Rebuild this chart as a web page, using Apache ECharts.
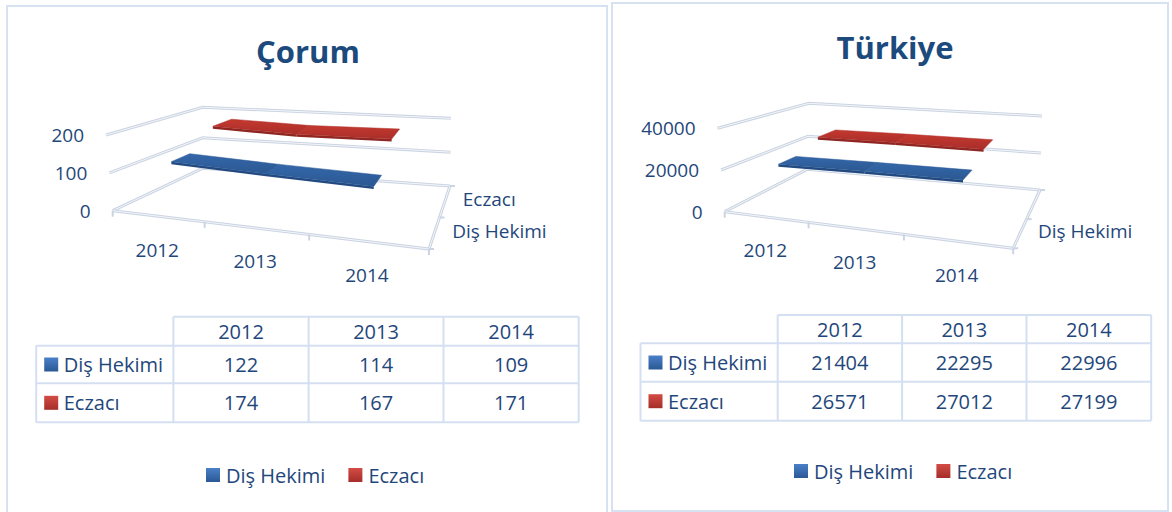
<!DOCTYPE html>
<html>
<head>
<meta charset="utf-8">
<script src="https://cdn.jsdelivr.net/npm/echarts@6/dist/echarts.min.js"></script>
<style>
  html, body { margin: 0; background: #fff; }
  #chart { width: 1172px; height: 512px; }
</style>
</head>
<body>
<div id="chart"></div>
<script>
  const years = ['2012', '2013', '2014'];
  const seriesNames = ['Diş Hekimi', 'Eczacı'];
  const corumDis = [122, 114, 109];
  const corumEcz = [174, 167, 171];
  const turkiyeDis = [21404, 22295, 22996];
  const turkiyeEcz = [26571, 27012, 27199];
  const corumTicks = [0, 100, 200];
  const turkiyeTicks = [0, 20000, 40000];

  const textColor = '#1f477b';
  const font = '"Open Sans", "Noto Sans", sans-serif';
  const persp = -0.18; // foreshortening along the category direction

  // 3d box corners on screen: front-left, front-right, back-right, back-left
  const panels = [
    {
      title: 'Çorum', titleX: 308, titleY: 51, max: 200, ticks: corumTicks,
      values: [corumDis, corumEcz], depthLabels: ['Diş Hekimi', 'Eczacı'],
      floor: [[112.7, 210.7], [429, 249], [450, 186], [202.6, 168.3]],
      top: [[106, 135], [429, 166], [451, 118.3], [202.6, 107.3]],
      box: [7, 6, 600, 508],
      cols: [36.2, 173.4, 308.6, 443.5, 578.7],
      rows: [316.7, 345.7, 383.3, 422.3],
      legendLeft: 201, legendTop: 460
    },
    {
      title: 'Türkiye', titleX: 895, titleY: 47, max: 40000, ticks: turkiyeTicks,
      values: [turkiyeDis, turkiyeEcz], depthLabels: ['Diş Hekimi'],
      floor: [[724.7, 211.7], [1013.2, 248.3], [1040, 190], [807.1, 169.3]],
      top: [[717.5, 128.3], [1010, 157], [1042, 116], [808.9, 103.3]],
      box: [612, 3, 556, 508],
      cols: [640.5, 777.7, 902.1, 1026.5, 1151.2],
      rows: [315, 343.3, 381.7, 420.7],
      legendLeft: 789, legendTop: 456
    }
  ];

  const colors = [
    {top: ['#3467aa', '#2b5892'], side: '#224a80', legend: ['#4a80c8', '#2b5895']},
    {top: ['#c4392f', '#aa2e2a'], side: '#8e2622', legend: ['#d44c45', '#a52d29']}
  ];

  function lerp(p, q, t) {
    return [p[0] + (q[0] - p[0]) * t, p[1] + (q[1] - p[1]) * t];
  }

  function proj(P, u, v, w) {
    const s = u * (1 + persp) / (1 + persp * u);
    const f = lerp(lerp(P.floor[0], P.floor[1], s), lerp(P.floor[3], P.floor[2], s), v);
    const t = lerp(lerp(P.top[0], P.top[1], s), lerp(P.top[3], P.top[2], s), v);
    return lerp(f, t, w);
  }

  // grid pixel -> unit (u along categories, w along value)
  function norm(params, pt) {
    const cs = params.coordSys;
    return [(pt[0] - cs.x) / cs.width, (cs.y + cs.height - pt[1]) / cs.height];
  }

  function wallLine(points) {
    return [
      {type: 'polyline', shape: {points: points}, style: {stroke: '#cbd4e2', lineWidth: 3, fill: null}},
      {type: 'polyline', shape: {points: points}, style: {stroke: '#f3f5f9', lineWidth: 1, fill: null}}
    ];
  }

  function label(x, y, text, align) {
    return {
      type: 'text', x: x, y: y,
      style: {text: text, fill: textColor, fontSize: 19, fontFamily: font,
        align: align, verticalAlign: 'middle', textAlign: align, textVerticalAlign: 'middle'}
    };
  }

  const series = [];
  const grids = [];
  const xAxes = [];
  const yAxes = [];

  panels.forEach(function (P, pi) {
    grids.push({left: P.box[0] + 10, top: 10, width: 100, height: 100, show: false});
    xAxes.push({type: 'category', gridIndex: pi, data: years, show: false});
    yAxes.push({type: 'value', gridIndex: pi, min: 0, max: P.max, show: false});

    // back and side walls
    series.push({
      type: 'custom', xAxisIndex: pi, yAxisIndex: pi, clip: false, silent: true,
      data: P.ticks.map(function (t) { return [0, t]; }),
      renderItem: function (params, api) {
        const val = api.value(1);
        const w = norm(params, api.coord([0, val]))[1];
        const a = proj(P, 0, 0, w), b = proj(P, 0, 1, w), c = proj(P, 1, 1, w);
        const kids = wallLine([a, b, c]);
        kids.push(label(a[0] - 22, a[1], String(val), 'right'));
        return {type: 'group', children: kids};
      }
    });

    // floor edges, category labels, depth labels
    series.push({
      type: 'custom', xAxisIndex: pi, yAxisIndex: pi, clip: false, silent: true,
      data: years.map(function (y, i) { return [i, 0]; }),
      renderItem: function (params, api) {
        const idx = api.value(0);
        const pt = api.coord([idx, 0]);
        const du = api.size([1, 0])[0] / params.coordSys.width;
        const u = norm(params, pt)[0];
        const kids = [];
        if (idx === 0) {
          kids.push.apply(kids, wallLine([proj(P, 0, 0, 0), proj(P, 1, 0, 0), proj(P, 1, 1, 0)]));
          [0, 0.5, 1].forEach(function (v) {
            const q = proj(P, 1, v, 0);
            kids.push({type: 'line', shape: {x1: q[0], y1: q[1], x2: q[0] + 5, y2: q[1]},
              style: {stroke: '#cbd4e2', lineWidth: 2}});
          });
          seriesNames.forEach(function (name, k) {
            if (P.depthLabels.indexOf(name) < 0) return;
            const q = proj(P, 1, (k + 0.5) / 2, 0);
            kids.push(label(q[0] + 18, q[1] - 2.5, name, 'left'));
          });
        }
        const edges = [u - du / 2];
        if (idx === years.length - 1) edges.push(u + du / 2);
        edges.forEach(function (ue) {
          const q = proj(P, ue, 0, 0);
          kids.push({type: 'line', shape: {x1: q[0], y1: q[1], x2: q[0], y2: q[1] + 6},
            style: {stroke: '#cbd4e2', lineWidth: 2}});
        });
        const c = proj(P, u, 0, 0);
        kids.push(label(c[0], c[1] + 33.5, years[idx], 'center'));
        return {type: 'group', children: kids};
      }
    });

    // ribbons
    P.values.forEach(function (vals, k) {
      const col = colors[k];
      series.push({
        name: seriesNames[k],
        type: 'custom', xAxisIndex: pi, yAxisIndex: pi, clip: false,
        itemStyle: {color: {type: 'linear', x: 0, y: 0, x2: 0, y2: 1,
          colorStops: [{offset: 0, color: col.legend[0]}, {offset: 1, color: col.legend[1]}]}},
        dimensions: ['x', 'y', 'x2', 'y2'],
        encode: {x: 0, y: 1},
        data: vals.slice(0, -1).map(function (v, i) { return [i, v, i + 1, vals[i + 1]]; }),
        renderItem: function (params, api) {
          const n1 = norm(params, api.coord([api.value(0), api.value(1)]));
          const n2 = norm(params, api.coord([api.value(2), api.value(3)]));
          const vc = (k + 0.5) / 2 + 0.07;
          const v0 = vc - 0.11, v1 = vc + 0.11;
          const f1 = proj(P, n1[0], v0, n1[1]), f2 = proj(P, n2[0], v0, n2[1]);
          const b2 = proj(P, n2[0], v1, n2[1]), b1 = proj(P, n1[0], v1, n1[1]);
          return {
            type: 'group', children: [
              {type: 'polygon', shape: {points: [f1, f2, [f2[0], f2[1] + 2.5], [f1[0], f1[1] + 2.5]]},
                style: {fill: col.side}},
              {type: 'polygon', shape: {points: [f1, f2, b2, b1]},
                style: {fill: {type: 'linear', x: 0, y: 1, x2: 0, y2: 0,
                  colorStops: [{offset: 0, color: col.top[1]}, {offset: 1, color: col.top[0]}]},
                  stroke: col.top[1], lineWidth: 0.5}}
            ]
          };
        }
      });
    });
  });

  // frames, titles and data tables
  const graphics = [];
  panels.forEach(function (P) {
    graphics.push({type: 'rect', shape: {x: P.box[0], y: P.box[1], width: P.box[2], height: P.box[3]},
      style: {fill: null, stroke: '#d6e2f2', lineWidth: 2}, z: 0});
    graphics.push({type: 'text', x: P.titleX, y: P.titleY,
      style: {text: P.title, fill: '#1c4a7d', fontSize: 31, fontWeight: 'bold', fontFamily: font,
        align: 'center', verticalAlign: 'middle', textAlign: 'center', textVerticalAlign: 'middle'}});

    const c = P.cols, r = P.rows;
    const ls = {stroke: '#d4e0f1', lineWidth: 2};
    r.forEach(function (y, i) {
      graphics.push({type: 'line', shape: {x1: i === 0 ? c[1] : c[0], y1: y, x2: c[c.length - 1], y2: y}, style: ls});
    });
    c.forEach(function (x, i) {
      graphics.push({type: 'line', shape: {x1: x, y1: i === 0 ? r[1] : r[0], x2: x, y2: r[r.length - 1]}, style: ls});
    });
    const cell = function (x, y, text, align) {
      return {type: 'text', x: x, y: y,
        style: {text: text, fill: textColor, fontSize: 20, fontFamily: font,
          align: align, verticalAlign: 'middle', textAlign: align, textVerticalAlign: 'middle'}};
    };
    years.forEach(function (yr, j) {
      graphics.push(cell((c[j + 1] + c[j + 2]) / 2, (r[0] + r[1]) / 2, yr, 'center'));
    });
    P.values.forEach(function (vals, k) {
      const yc = (r[k + 1] + r[k + 2]) / 2;
      const col = colors[k].legend;
      graphics.push({type: 'rect', shape: {x: c[0] + 8, y: yc - 7, width: 14, height: 14},
        style: {fill: {type: 'linear', x: 0, y: 0, x2: 0, y2: 1,
          colorStops: [{offset: 0, color: col[0]}, {offset: 1, color: col[1]}]}}});
      graphics.push(cell(c[0] + 27.5, yc, seriesNames[k], 'left'));
      vals.forEach(function (v, j) {
        graphics.push(cell((c[j + 1] + c[j + 2]) / 2, yc, String(v), 'center'));
      });
    });
  });

  const chart = echarts.init(document.getElementById('chart'), null, {renderer: 'svg'});
  chart.setOption({
    animation: false,
    grid: grids,
    xAxis: xAxes,
    yAxis: yAxes,
    legend: panels.map(function (P) {
      return {
        data: seriesNames, left: P.legendLeft, top: P.legendTop, icon: 'rect',
        itemWidth: 14, itemHeight: 14, itemGap: 23, selectedMode: false,
        textStyle: {color: textColor, fontSize: 20, fontFamily: font, padding: [0, 0, 0, 1]}
      };
    }),
    graphic: graphics,
    series: series
  });
</script>
</body>
</html>
